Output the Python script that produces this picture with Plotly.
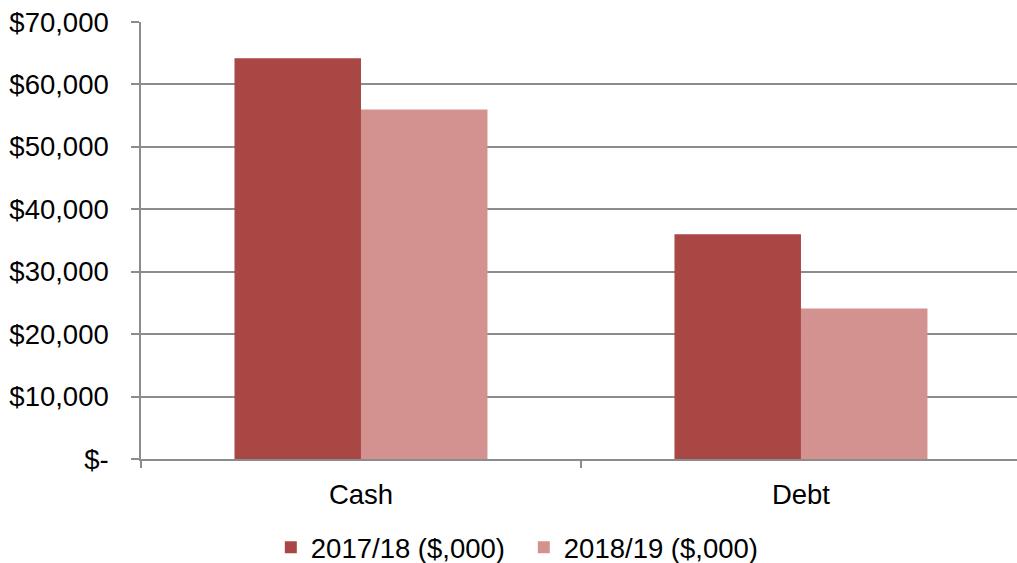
import plotly.graph_objects as go

categories = ["Cash", "Debt"]
series_names = ["2017/18 ($,000)", "2018/19 ($,000)"]
values_2017 = [64200, 36000]
values_2018 = [56000, 24100]
colors = ["#A94744", "#D39190"]
y_tickvals = [0, 10000, 20000, 30000, 40000, 50000, 60000, 70000]
y_ticktext = ["$-", "$10,000", "$20,000", "$30,000", "$40,000", "$50,000", "$60,000", "$70,000"]

FONT = "Liberation Sans, Arial, sans-serif"
GRID = "#8C8C8C"
FS = 27.5

fig = go.Figure()
for name, vals, col in zip(series_names, [values_2017, values_2018], colors):
    fig.add_trace(go.Bar(
        x=categories, y=vals, name=name,
        marker=dict(color=col, line=dict(width=0)),
    ))

fig.update_layout(
    width=1017, height=563,
    margin=dict(l=141, r=0, t=22, b=104, autoexpand=False),
    paper_bgcolor="white", plot_bgcolor="white",
    barmode="group", bargap=0.425, bargroupgap=0,
    font=dict(family=FONT, size=FS, color="#000000"),
    showlegend=True,
    legend=dict(
        orientation="h", x=0.437, xanchor="center", y=-0.202, yanchor="middle",
        font=dict(family=FONT, size=FS, color="#000000"),
        itemwidth=30, tracegroupgap=0, entrywidth=208,
        bgcolor="rgba(0,0,0,0)",
    ),
    xaxis=dict(
        range=[-0.5, 1.491], automargin=False,
        showline=True, linecolor=GRID, linewidth=1.5,
        ticks="outside", tickson="boundaries", ticklen=7, tickcolor=GRID, tickwidth=1.5,
        showgrid=False,
        ticklabelstandoff=10,
        tickfont=dict(family=FONT, size=FS, color="#000000"),
    ),
    yaxis=dict(
        range=[0, 70000], automargin=False,
        tickvals=y_tickvals, ticktext=y_ticktext,
        showline=True, linecolor=GRID, linewidth=1.5,
        ticks="outside", ticklen=8, tickcolor=GRID, tickwidth=1.5,
        showgrid=True, gridcolor=GRID, gridwidth=1.5,
        zeroline=False,
        ticklabelstandoff=17,
        tickfont=dict(family=FONT, size=FS, color="#000000"),
    ),
)

fig.write_html(
    "out.html",
    config={"displayModeBar": False},
    post_script="document.body.style.margin='0';document.body.style.overflow='hidden';",
)
